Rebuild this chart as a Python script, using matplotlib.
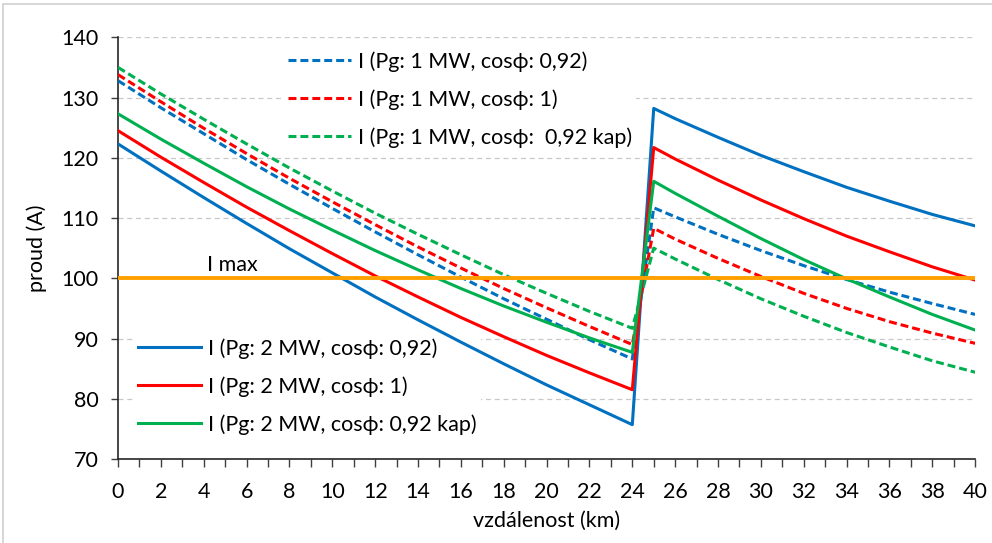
import matplotlib
matplotlib.use("Agg")
import matplotlib.pyplot as plt
from matplotlib.patches import Rectangle

plt.rcParams['font.family'] = ['Lato', 'DejaVu Sans']

# distance along the line (km)
distance_km = [0, 2, 4, 6, 8, 10, 12, 14, 16, 18, 20, 22, 24,
               25, 26, 28, 30, 32, 34, 36, 38, 40]

# currents for 1 MW generation
i_1mw_092 = [132.8, 128.3, 124.0, 119.7, 115.6, 111.6, 107.7, 103.9, 100.2, 96.6, 93.2, 89.8, 86.6,
             111.7, 110.2, 107.3, 104.6, 102.1, 99.8, 97.7, 95.8, 94.0]
i_1mw_1 = [133.8, 129.3, 124.9, 120.7, 116.6, 112.7, 108.9, 105.2, 101.7, 98.3, 95.1, 92.0, 89.0,
           108.3, 106.5, 103.3, 100.3, 97.5, 95.0, 92.8, 90.9, 89.2]
i_1mw_092kap = [135.0, 130.6, 126.4, 122.3, 118.3, 114.5, 110.8, 107.3, 103.9, 100.6, 97.5, 94.5, 91.7,
                105.0, 103.2, 99.8, 96.6, 93.7, 91.0, 88.6, 86.3, 84.4]

# currents for 2 MW generation
i_2mw_092 = [122.3, 117.8, 113.4, 109.1, 104.9, 100.9, 96.9, 93.1, 89.4, 85.8, 82.3, 79.0, 75.7,
             128.2, 126.5, 123.4, 120.4, 117.7, 115.1, 112.8, 110.6, 108.7]
i_2mw_1 = [124.5, 120.1, 115.9, 111.8, 107.9, 104.1, 100.4, 96.9, 93.5, 90.3, 87.2, 84.3, 81.5,
           121.7, 119.8, 116.3, 113.0, 109.9, 107.0, 104.4, 101.9, 99.7]
i_2mw_092kap = [127.3, 123.1, 119.1, 115.2, 111.5, 108.0, 104.6, 101.4, 98.3, 95.4, 92.7, 90.1, 87.7,
                116.1, 114.1, 110.3, 106.6, 103.1, 99.9, 96.9, 94.0, 91.4]

i_max = 100

labels_1mw = ["I (Pg: 1 MW, cosϕ: 0,92)", "I (Pg: 1 MW, cosϕ: 1)", "I (Pg: 1 MW, cosϕ:  0,92 kap)"]
labels_2mw = ["I (Pg: 2 MW, cosϕ: 0,92)", "I (Pg: 2 MW, cosϕ: 1)", "I (Pg: 2 MW, cosϕ: 0,92 kap)"]

BLUE, RED, GREEN, ORANGE = "#0070C0", "#FF0000", "#00B050", "#FFA000"
FS = 15.5

fig = plt.figure(figsize=(9.92, 5.43), dpi=100)
ax = fig.add_axes([0.119, 0.1547, 0.864, 0.7766])

# outer chart frame
fig.patches.append(Rectangle((3 / 992, -0.1), 1.2, 1.1 - 4 / 543, transform=fig.transFigure,
                             fill=False, edgecolor="#D0D0D0", linewidth=1.2))

dash = (0, (2.6, 1.3))
lw = 2.2
h1 = []
for ys, c, lab in zip([i_1mw_092, i_1mw_1, i_1mw_092kap], [BLUE, RED, GREEN], labels_1mw):
    h1 += ax.plot(distance_km, ys, color=c, lw=lw, linestyle=dash, label=lab, zorder=3)
h2 = []
for ys, c, lab in zip([i_2mw_092, i_2mw_1, i_2mw_092kap], [BLUE, RED, GREEN], labels_2mw):
    h2 += ax.plot(distance_km, ys, color=c, lw=lw, label=lab, zorder=3)

ax.axhline(i_max, color=ORANGE, lw=2.8, zorder=4)
ax.text(4.14, i_max + 1.2, "I max", fontsize=FS, ha="left", va="baseline")

ax.set_xlim(0, 40)
ax.set_ylim(70, 140)
ax.set_xticks(range(0, 41, 2))
ax.set_xticks(range(0, 41, 1), minor=True)
ax.set_yticks(range(70, 141, 10))
ax.tick_params(axis="both", labelsize=FS, direction="out", width=1, color="#404040")
ax.tick_params(axis="x", which="both", length=5.8, width=1, color="#404040", pad=11)
ax.tick_params(axis="y", length=5, pad=9)
for s in ["top", "right"]:
    ax.spines[s].set_visible(False)
for s in ["left", "bottom"]:
    ax.spines[s].set_color("#262626")
    ax.spines[s].set_linewidth(1.2)

ax.grid(axis="y", color="#C8C8C8", linestyle=(0, (4, 3)), linewidth=0.9, zorder=0)
ax.set_axisbelow(True)

ax.set_xlabel("vzdálenost (km)", fontsize=FS, labelpad=6)
ax.set_ylabel("proud (A)", fontsize=FS, labelpad=10)

# legends sit above the grid but below the data lines
leg_kw = dict(fontsize=FS, frameon=True, framealpha=1, facecolor="white", edgecolor="none",
              handlelength=2.9, handletextpad=0.33, labelspacing=0.81, borderpad=0.2,
              borderaxespad=0, loc="upper left", fancybox=False, bbox_transform=fig.transFigure)
leg1 = ax.legend(handles=h1, bbox_to_anchor=(284 / 992, 1 - 47 / 543), **leg_kw)
ax.add_artist(leg1)
leg2 = ax.legend(handles=h2, bbox_to_anchor=(134 / 992, 1 - 334 / 543), **leg_kw)
leg1.set_zorder(2)
leg2.set_zorder(2)

fig.savefig("out.png", dpi=100)
